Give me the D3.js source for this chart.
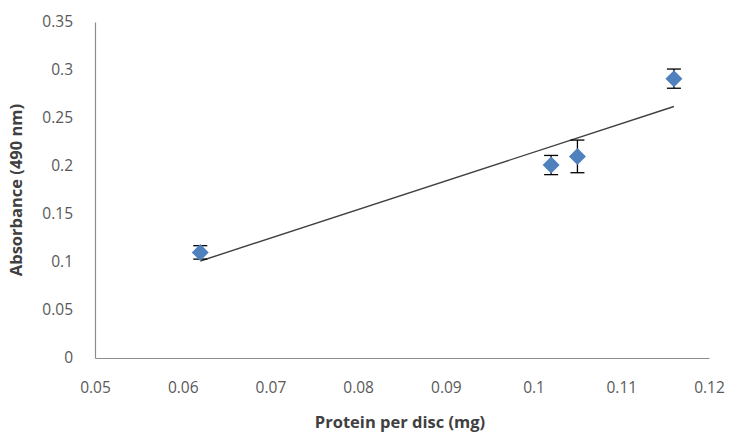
<!DOCTYPE html>
<html lang="en">
    <head>
        <meta charset="utf-8">
        <title>Absorbance vs protein per disc</title>
        <script src="https://d3js.org/d3.v7.min.js"></script>
        <style>
            body { margin: 0; background: #fff; }
            text { font-family: 'Open Sans', 'Noto Sans', sans-serif; }
        </style>
    </head>
    <body>
        <script>
            // values
            const protein = [0.062, 0.102, 0.105, 0.116];
            const absorbance = [0.110, 0.201, 0.210, 0.291];
            const errors = [0.007, 0.010, 0.017, 0.010];
            const trendX = [0.062, 0.116];
            const trendY = [0.101, 0.262];
            const xTicks = [0.05, 0.06, 0.07, 0.08, 0.09, 0.1, 0.11, 0.12];
            const yTicks = [0, 0.05, 0.1, 0.15, 0.2, 0.25, 0.3, 0.35];

            const w = 729;
            const h = 433;
            const padLeft = 95, padRight = 709, padTop = 22, padBottom = 358;

            const svg = d3.select('body')
                          .append('svg')
                          .attr('width', w)
                          .attr('height', h)

            const x = d3.scaleLinear().domain([0.05, 0.12]).range([padLeft, padRight])
            const y = d3.scaleLinear().domain([0, 0.35]).range([padBottom, padTop])

            //x-axis
            const xAxis = d3.axisBottom(x)
                            .tickValues(xTicks)
                            .tickSize(0)
                            .tickPadding(24)
                            .tickFormat(d3.format('~g'))
            svg.append('g')
               .attr('transform', 'translate(0,' + padBottom + ')')
               .call(xAxis)
            //y-axis
            const yAxis = d3.axisLeft(y)
                            .tickValues(yTicks)
                            .tickSize(0)
                            .tickPadding(22)
                            .tickFormat(d3.format('~g'))
            svg.append('g')
               .attr('transform', 'translate(' + padLeft + ',0)')
               .call(yAxis)

            svg.selectAll('.domain').attr('stroke', '#8c8c8c').attr('stroke-width', 1.2)
            svg.selectAll('.tick text')
               .attr('fill', '#595959')
               .attr('font-size', 15.5)
               .attr('font-family', "'Open Sans', sans-serif")

            // trend line
            svg.append('line')
               .attr('x1', x(trendX[0]))
               .attr('y1', y(trendY[0]))
               .attr('x2', x(trendX[1]))
               .attr('y2', y(trendY[1]))
               .attr('stroke', '#404040')
               .attr('stroke-width', 1.4)

            const data = protein.map((p, i) => ({x: p, y: absorbance[i], e: errors[i]}))

            // error bars
            const eb = svg.selectAll('.err')
                          .data(data)
                          .enter()
                          .append('g')
                          .attr('class', 'err')
                          .attr('stroke', '#000')
                          .attr('stroke-width', 1.3)
            eb.append('line')
              .attr('x1', d => x(d.x)).attr('x2', d => x(d.x))
              .attr('y1', d => y(d.y - d.e)).attr('y2', d => y(d.y + d.e))
            eb.append('line')
              .attr('x1', d => x(d.x) - 7).attr('x2', d => x(d.x) + 7)
              .attr('y1', d => y(d.y + d.e)).attr('y2', d => y(d.y + d.e))
            eb.append('line')
              .attr('x1', d => x(d.x) - 7).attr('x2', d => x(d.x) + 7)
              .attr('y1', d => y(d.y - d.e)).attr('y2', d => y(d.y - d.e))

            // diamonds
            svg.selectAll('.dot')
               .data(data)
               .enter()
               .append('path')
               .attr('class', 'dot')
               .attr('d', 'M0,-8.5L8.5,0L0,8.5L-8.5,0Z')
               .attr('transform', d => 'translate(' + x(d.x) + ',' + y(d.y) + ')')
               .attr('fill', '#4f81bd')

            svg.append('text')
               .text('Protein per disc (mg)')
               .attr('x', (padLeft + padRight) / 2 - 2)
               .attr('y', 428)
               .attr('text-anchor', 'middle')
               .attr('font-weight', 'bold')
               .attr('font-size', 16.5)
               .attr('fill', '#404040')

            svg.append('text')
               .text('Absorbance (490 nm)')
               .attr('transform', 'translate(22,' + ((padTop + padBottom) / 2) + ') rotate(-90)')
               .attr('text-anchor', 'middle')
               .attr('font-weight', 'bold')
               .attr('font-size', 16.5)
               .attr('fill', '#404040')
        </script>
    </body>
</html>
